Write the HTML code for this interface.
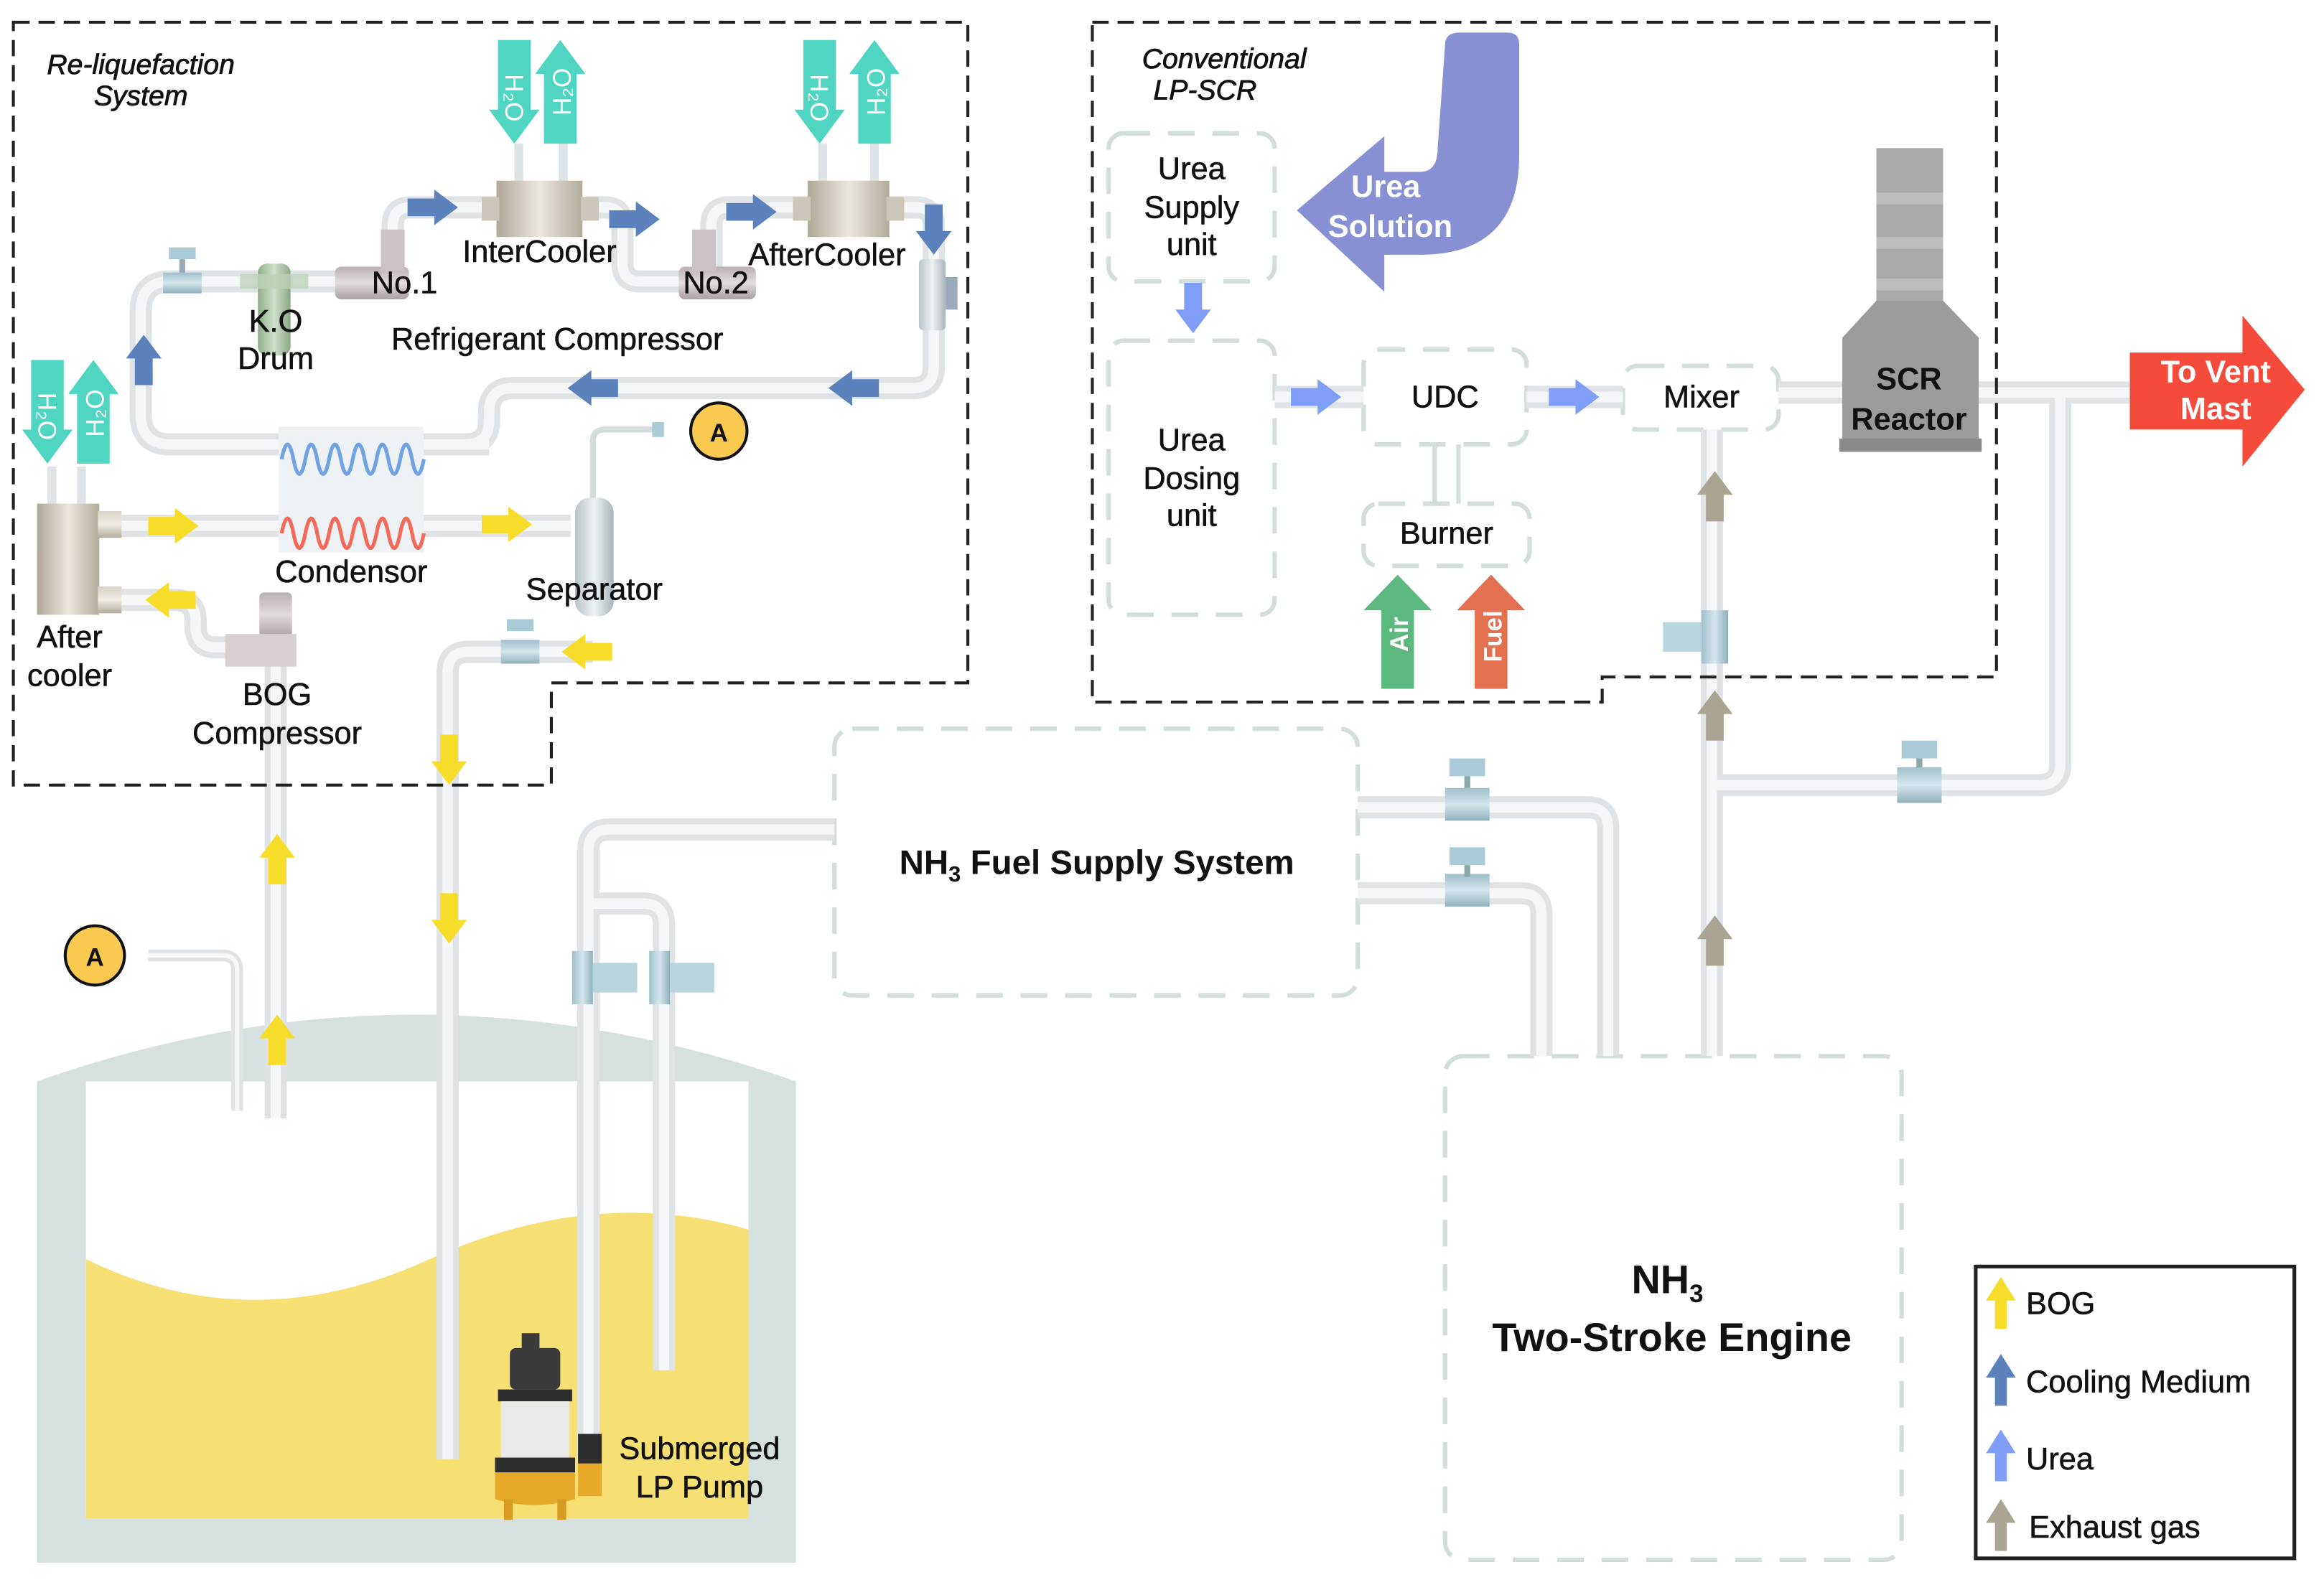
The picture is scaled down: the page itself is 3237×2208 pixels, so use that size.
<!DOCTYPE html>
<html><head><meta charset="utf-8"><style>
html,body{margin:0;padding:0;background:#fff;}
svg{display:block;font-family:"Liberation Sans","DejaVu Sans",sans-serif;}
.w{fill:#fff;}
</style></head><body>
<svg width="3237" height="2208" viewBox="0 0 1568 1070" preserveAspectRatio="none" xmlns="http://www.w3.org/2000/svg" fill="#111">
<defs>
<path id="ar" d="M-17,-6 H1 V-12 L17,0 L1,12 V6 H-17 Z"/>
<path id="ta" d="M-35,-11 H12 V-17 L35,0 L12,17 V11 H-35 Z"/>
<linearGradient id="beige" x1="0" x2="1"><stop offset="0" stop-color="#aea895"/><stop offset=".5" stop-color="#ebe7dc"/><stop offset="1" stop-color="#b2ac9a"/></linearGradient>
<linearGradient id="beigeV" x1="0" y1="0" x2="0" y2="1"><stop offset="0" stop-color="#d8d3c5"/><stop offset=".5" stop-color="#efece4"/><stop offset="1" stop-color="#b2ac9a"/></linearGradient>
<linearGradient id="comp" x1="0" y1="0" x2="0" y2="1"><stop offset="0" stop-color="#b9b0b1"/><stop offset=".5" stop-color="#e2dcdc"/><stop offset="1" stop-color="#a9a0a1"/></linearGradient>
<linearGradient id="valve" x1="0" y1="0" x2="0" y2="1"><stop offset="0" stop-color="#9fbfcb"/><stop offset=".5" stop-color="#d5e6ec"/><stop offset="1" stop-color="#8fb0bd"/></linearGradient>
<linearGradient id="valveH" x1="0" x2="1"><stop offset="0" stop-color="#9fbfcb"/><stop offset=".5" stop-color="#d5e6ec"/><stop offset="1" stop-color="#8fb0bd"/></linearGradient>
<linearGradient id="green" x1="0" x2="1"><stop offset="0" stop-color="#8fae8a"/><stop offset=".5" stop-color="#cfe2cb"/><stop offset="1" stop-color="#8aa685"/></linearGradient>
<linearGradient id="sep" x1="0" x2="1"><stop offset="0" stop-color="#b9c3c8"/><stop offset=".5" stop-color="#eef2f3"/><stop offset="1" stop-color="#aab4b9"/></linearGradient>
<g id="pipes" fill="none">
<path d="M330,300 H115 Q95,300 95,280 V210 Q95,190 115,190 H250"/>
<path d="M265,190 V152 Q265,140 277,140 H340"/>
<path d="M395,140 H408 Q420,140 420,152 V178 Q420,190 432,190 H475"/>
<path d="M480,190 V152 Q480,140 492,140 H545"/>
<path d="M600,140 H618 Q630,140 630,152 V248 Q630,262 616,262 H346 Q330,262 330,278 V284 Q330,300 314,300"/>
<path d="M70,355 H385"/>
<path d="M70,405 H118 Q132,405 132,419 V423 Q132,437 146,437 H165"/>
<path d="M400,440 H316 Q302,440 302,454 V985"/>
<path d="M186,450 V755"/>
<path d="M563,560 H411 Q397,560 397,574 V985"/>
<path d="M397,610 H434 Q448,610 448,624 V925"/>
<path d="M916,545 H1071 Q1085,545 1085,559 V713"/>
<path d="M916,603 H1026 Q1040,603 1040,617 V713"/>
<path d="M1155,713 V290"/>
<path d="M1155,530 H1376 Q1390,530 1390,516 V265"/>
<path d="M1200,265 H1440"/>
<path d="M860,268 H920"/>
<path d="M1030,268 H1095"/>
</g>
</defs>

<path d="M25,730 Q280,640 537,730 V1055 H25 Z" fill="#d6e0df"/>
<rect x="58" y="730" width="447" height="295" fill="#fff"/>
<path d="M58,850 Q170,905 290,850 Q400,800 505,830 V1025 H58 Z" fill="#f6e073"/>

<g fill="none" stroke="#d3dddc" stroke-width="3" stroke-dasharray="18 12">
<rect x="563" y="492" width="353" height="180" rx="12"/>
<rect x="975" y="713" width="308" height="340" rx="12"/>
<rect x="748" y="90" width="112" height="100" rx="10"/>
<rect x="748" y="230" width="112" height="185" rx="10"/>
<rect x="920" y="236" width="110" height="64" rx="10"/>
<rect x="920" y="340" width="112" height="42" rx="10"/>
<rect x="1095" y="247" width="105" height="43" rx="10"/>
</g>
<path d="M968,300 V340 M984,300 V340" stroke="#d3dddc" stroke-width="3"/>

<use href="#pipes" stroke="#dfe3e5" stroke-width="15"/>
<use href="#pipes" stroke="#f5f6f7" stroke-width="7"/>
<path d="M100,645 H150 Q160,645 160,655 V750" fill="none" stroke="#dfe3e5" stroke-width="8"/>
<path d="M100,645 H150 Q160,645 160,655 V750" fill="none" stroke="#f7f8f8" stroke-width="3"/>
<path d="M400,340 V298 Q400,290 408,290 H445" fill="none" stroke="#d5dadc" stroke-width="4"/>
<g stroke="#dfe3e5" stroke-width="6">
<path d="M350,97 V125 M380,97 V125 M555,97 V125 M590,97 V125 M35,315 V342 M55,315 V342"/>
</g>

<g fill="none" stroke="#222" stroke-width="2" stroke-dasharray="11 6">
<path d="M9,15 H653 V461 H372 V530 H9 Z"/>
<path d="M737,15 H1347 V457 H1081 V474 H737 Z"/>
</g>

<rect x="188" y="288" width="98" height="85" fill="#eef2f4"/>
<path d="M190,305 q4,-20 8,0 t8,0 t8,0 t8,0 t8,0 t8,0 t8,0 t8,0 t8,0 t8,0 t8,0 t8,0" fill="none" stroke="#6fa3e6" stroke-width="2.5" transform="translate(0,5)"/>
<path d="M190,355 q4,-20 8,0 t8,0 t8,0 t8,0 t8,0 t8,0 t8,0 t8,0 t8,0 t8,0 t8,0 t8,0" fill="none" stroke="#f46a5a" stroke-width="2.5" transform="translate(0,5)"/>
<rect x="25" y="340" width="42" height="75" fill="url(#beige)"/>
<rect x="66" y="345" width="16" height="18" fill="url(#beigeV)"/>
<rect x="66" y="396" width="16" height="18" fill="url(#beigeV)"/>
<rect x="174" y="178" width="22" height="62" rx="6" fill="url(#green)"/>
<rect x="162" y="185" width="46" height="10" fill="#bcd2b8" opacity=".8"/>
<rect x="110" y="184" width="26" height="14" fill="url(#valve)"/>
<rect x="114" y="167" width="18" height="8" fill="#a9cad6"/>
<rect x="121" y="175" width="4" height="9" fill="#9ab"/>
<rect x="226" y="180" width="50" height="22" rx="4" fill="url(#comp)"/>
<rect x="257" y="155" width="16" height="28" fill="#cbc3c3"/>
<rect x="335" y="122" width="58" height="38" fill="url(#beige)"/>
<rect x="325" y="133" width="12" height="16" fill="#ccc7b8"/><rect x="392" y="133" width="12" height="16" fill="#ccc7b8"/>
<rect x="458" y="180" width="52" height="22" rx="4" fill="url(#comp)"/>
<rect x="467" y="155" width="16" height="28" fill="#cbc3c3"/>
<rect x="545" y="122" width="55" height="38" fill="url(#beige)"/>
<rect x="535" y="133" width="12" height="16" fill="#ccc7b8"/><rect x="598" y="133" width="12" height="16" fill="#ccc7b8"/>
<rect x="620" y="175" width="18" height="48" rx="3" fill="url(#sep)"/>
<rect x="638" y="187" width="8" height="22" fill="#9ab"/>
<rect x="388" y="336" width="26" height="80" rx="10" fill="url(#sep)"/>
<rect x="440" y="285" width="8" height="10" fill="#a9cad6"/>
<rect x="175" y="400" width="22" height="30" rx="3" fill="url(#comp)"/>
<rect x="152" y="428" width="48" height="22" fill="#d8d0d0"/>
<rect x="338" y="432" width="26" height="16" fill="url(#valve)"/>
<rect x="342" y="418" width="18" height="8" fill="#a9cad6"/>

<g fill="#4fd5c2">
<use href="#ta" transform="translate(347,62) rotate(90)"/>
<use href="#ta" transform="translate(378,62) rotate(-90)"/>
<use href="#ta" transform="translate(553,62) rotate(90)"/>
<use href="#ta" transform="translate(590,62) rotate(-90)"/>
<use href="#ta" transform="translate(32,278) rotate(90)"/>
<use href="#ta" transform="translate(63,278) rotate(-90)"/>
</g>
<g font-size="17">
<text class="w" transform="translate(341,50) rotate(90)">H₂O</text>
<text class="w" transform="translate(385,78) rotate(-90)">H₂O</text>
<text class="w" transform="translate(547,50) rotate(90)">H₂O</text>
<text class="w" transform="translate(597,78) rotate(-90)">H₂O</text>
<text class="w" transform="translate(26,265) rotate(90)">H₂O</text>
<text class="w" transform="translate(70,295) rotate(-90)">H₂O</text>
</g>

<g fill="#5b82bd">
<use href="#ar" transform="translate(292,140)"/>
<use href="#ar" transform="translate(428,148)"/>
<use href="#ar" transform="translate(507,143)"/>
<use href="#ar" transform="translate(630,155) rotate(90)"/>
<use href="#ar" transform="translate(576,262) rotate(180)"/>
<use href="#ar" transform="translate(400,262) rotate(180)"/>
<use href="#ar" transform="translate(97,243) rotate(-90)"/>
</g>
<g fill="#f8dc2a">
<use href="#ar" transform="translate(117,355)"/>
<use href="#ar" transform="translate(342,354)"/>
<use href="#ar" transform="translate(115,405) rotate(180)"/>
<use href="#ar" transform="translate(396,440) rotate(180)"/>
<use href="#ar" transform="translate(303,513) rotate(90)"/>
<use href="#ar" transform="translate(303,620) rotate(90)"/>
<use href="#ar" transform="translate(187,580) rotate(-90)"/>
<use href="#ar" transform="translate(187,702) rotate(-90)"/>
</g>

<g fill="#f9ca4f" stroke="#111" stroke-width="2">
<circle cx="485" cy="291" r="19"/>
<circle cx="64" cy="645" r="20"/>
</g>
<text x="485" y="298" font-size="17" text-anchor="middle" font-weight="bold">A</text>
<text x="64" y="652" font-size="17" text-anchor="middle" font-weight="bold">A</text>

<rect x="386" y="642" width="14" height="36" fill="url(#valveH)"/><rect x="400" y="650" width="30" height="20" fill="#b9d6e0"/>
<rect x="438" y="642" width="14" height="36" fill="url(#valveH)"/><rect x="452" y="650" width="30" height="20" fill="#b9d6e0"/>
<rect x="344" y="910" width="34" height="28" rx="4" fill="#3b3b3b"/>
<rect x="352" y="900" width="12" height="12" fill="#3b3b3b"/>
<rect x="336" y="938" width="50" height="8" fill="#2d2d2d"/>
<rect x="338" y="946" width="46" height="38" fill="#e9e9e9"/>
<rect x="334" y="984" width="54" height="10" fill="#2d2d2d"/>
<path d="M334,994 H388 V1012 Q361,1020 334,1012 Z" fill="#e6a92a"/>
<rect x="340" y="1012" width="6" height="14" fill="#d89a20"/><rect x="376" y="1012" width="6" height="14" fill="#d89a20"/>
<rect x="390" y="968" width="16" height="20" fill="#2d2d2d"/><rect x="390" y="988" width="16" height="22" fill="#e6a92a"/>

<rect x="975" y="532" width="30" height="22" fill="url(#valve)"/><rect x="978" y="512" width="24" height="12" fill="#a9cad6"/><rect x="988" y="524" width="4" height="8" fill="#8aa"/>
<rect x="975" y="590" width="30" height="22" fill="url(#valve)"/><rect x="978" y="572" width="24" height="12" fill="#a9cad6"/><rect x="988" y="584" width="4" height="8" fill="#8aa"/>
<rect x="1280" y="518" width="30" height="24" fill="url(#valve)"/><rect x="1283" y="500" width="24" height="12" fill="#a9cad6"/><rect x="1293" y="512" width="4" height="6" fill="#8aa"/>
<rect x="1148" y="412" width="18" height="36" fill="url(#valveH)"/><rect x="1122" y="420" width="26" height="20" fill="#b9d6e0"/>
<g fill="#aaa493">
<use href="#ar" transform="translate(1157,335) rotate(-90)"/>
<use href="#ar" transform="translate(1157,483) rotate(-90)"/>
<use href="#ar" transform="translate(1157,635) rotate(-90)"/>
</g>

<path d="M975,30 Q975,22 985,22 H1017 Q1025,22 1025,30 V105 Q1025,172 958,172 H934 V197 L875,142 L934,92 V116 H958 Q970,116 970,100 Z" fill="#8890d4"/>
<text class="w" x="935" y="133" font-size="21" font-weight="bold" text-anchor="middle">Urea</text>
<text class="w" x="938" y="160" font-size="21" font-weight="bold" text-anchor="middle">Solution</text>
<g fill="#7f9ef8">
<use href="#ar" transform="translate(805,208) rotate(90)"/>
<use href="#ar" transform="translate(888,268)"/>
<use href="#ar" transform="translate(1062,268)"/>
</g>
<rect x="1266" y="100" width="45" height="105" fill="#a9a9a9"/>
<rect x="1266" y="130" width="45" height="8" fill="#bdbdbd"/><rect x="1266" y="160" width="45" height="8" fill="#bdbdbd"/><rect x="1266" y="188" width="45" height="8" fill="#bdbdbd"/>
<path d="M1266,203 H1311 L1335,228 V300 H1243 V228 Z" fill="#9b9b9b"/>
<rect x="1241" y="296" width="96" height="9" fill="#8a8a8a"/>
<text x="1288" y="263" font-size="21" font-weight="bold" text-anchor="middle">SCR</text>
<text x="1288" y="290" font-size="21" font-weight="bold" text-anchor="middle">Reactor</text>
<path d="M1437,238 H1513 V213 L1555,263 L1513,315 V290 H1437 Z" fill="#f44b3b"/>
<text class="w" x="1495" y="258" font-size="21" font-weight="bold" text-anchor="middle">To Vent</text>
<text class="w" x="1495" y="283" font-size="21" font-weight="bold" text-anchor="middle">Mast</text>
<path d="M932,465 V412 H920 L943,388 L966,412 H954 V465 Z" fill="#5cb87f"/>
<path d="M995,465 V412 H983 L1006,388 L1029,412 H1017 V465 Z" fill="#e3704f"/>
<text class="w" transform="translate(950,440) rotate(-90)" font-size="17" font-weight="bold">Air</text>
<text class="w" transform="translate(1013,447) rotate(-90)" font-size="17" font-weight="bold">Fuel</text>

<rect x="1333" y="855" width="215" height="197" fill="#fff" stroke="#222" stroke-width="2.5"/>
<path d="M1346,897 V878 H1340 L1350,862 L1360,878 H1354 V897 Z" fill="#f8dc2a"/>
<path d="M1346,949 V930 H1340 L1350,914 L1360,930 H1354 V949 Z" fill="#5b82bd"/>
<path d="M1346,1000 V981 H1340 L1350,965 L1360,981 H1354 V1000 Z" fill="#7f9ef8"/>
<path d="M1346,1047 V1028 H1340 L1350,1012 L1360,1028 H1354 V1047 Z" fill="#aaa493"/>
<g font-size="21" stroke="#111" stroke-width="0.3">
<text x="1367" y="887">BOG</text>
<text x="1367" y="940">Cooling Medium</text>
<text x="1367" y="992">Urea</text>
<text x="1369" y="1038">Exhaust gas</text>
</g>

<g font-size="19" font-style="italic" text-anchor="middle" stroke="#111" stroke-width="0.4">
<text x="95" y="50">Re-liquefaction</text>
<text x="95" y="71">System</text>
<text x="826" y="46">Conventional</text>
<text x="813" y="67">LP-SCR</text>
</g>
<g font-size="21" text-anchor="middle" stroke="#111" stroke-width="0.3">
<text x="364" y="177">InterCooler</text>
<text x="273" y="198">No.1</text>
<text x="483" y="198">No.2</text>
<text x="558" y="179">AfterCooler</text>
<text x="186" y="224">K.O</text>
<text x="186" y="249">Drum</text>
<text x="376" y="236">Refrigerant Compressor</text>
<text x="237" y="393">Condensor</text>
<text x="401" y="405">Separator</text>
<text x="47" y="437">After</text>
<text x="47" y="463">cooler</text>
<text x="187" y="476">BOG</text>
<text x="187" y="502">Compressor</text>
<text x="472" y="985">Submerged</text>
<text x="472" y="1011">LP Pump</text>
<text x="804" y="121">Urea</text>
<text x="804" y="147">Supply</text>
<text x="804" y="172">unit</text>
<text x="804" y="304">Urea</text>
<text x="804" y="330">Dosing</text>
<text x="804" y="355">unit</text>
<text x="975" y="275">UDC</text>
<text x="976" y="367">Burner</text>
<text x="1148" y="275">Mixer</text>
</g>
<g font-weight="bold" text-anchor="middle">
<text x="740" y="590" font-size="23">NH<tspan font-size="15" dy="5">3</tspan><tspan dy="-5"> Fuel Supply System</tspan></text>
<text x="1125" y="873" font-size="27">NH<tspan font-size="17" dy="6">3</tspan></text>
<text x="1128" y="912" font-size="27">Two-Stroke Engine</text>
</g>
</svg>
</body></html>
